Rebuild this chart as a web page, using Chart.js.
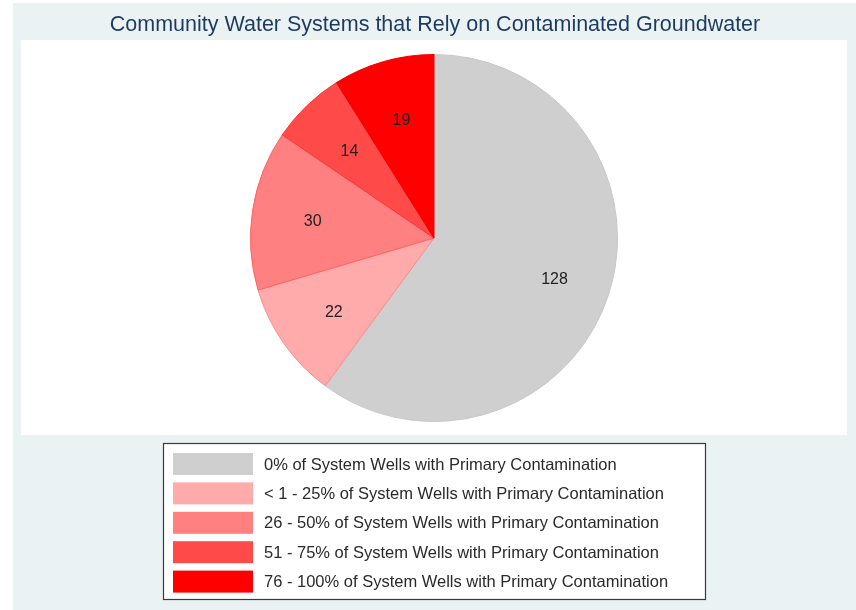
<!DOCTYPE html>
<html>
<head>
<meta charset="utf-8">
<title>Community Water Systems that Rely on Contaminated Groundwater</title>
<script src="https://cdn.jsdelivr.net/npm/chart.js@4.4.1/dist/chart.umd.min.js"></script>
<style>
    html, body { margin: 0; padding: 0; background: #ffffff; }
    #wrap { width: 856px; height: 610px; position: relative; }
</style>
</head>
<body>
<div id="wrap"><canvas id="chartPie_water"></canvas></div>
<script>
    // categories and counts of community water systems
    var arrLabel = [
        '0% of System Wells with Primary Contamination',
        '< 1 - 25% of System Wells with Primary Contamination',
        '26 - 50% of System Wells with Primary Contamination',
        '51 - 75% of System Wells with Primary Contamination',
        '76 - 100% of System Wells with Primary Contamination'
    ];
    var arrCount = [128, 22, 30, 14, 19];

    var arrColor = ['#cfcfcf', '#ffabab', '#ff8080', '#ff4a4a', '#ff0000'];
    var arrBorder = ['#c8c8c8', '#ff8a8a', '#ff6262', '#ff3434', '#f20000'];

    var chartTitle = 'Community Water Systems that Rely on Contaminated Groundwater';

    // graph region + plot region + title, drawn under the pie
    const backgroundPlugin = {
        id: 'stataBackground',
        beforeDraw: function (chart) {
            let ctx = chart.ctx;
            ctx.save();
            ctx.fillStyle = '#ffffff';
            ctx.fillRect(0, 0, chart.width, chart.height);
            ctx.fillStyle = '#eaf2f3';
            ctx.fillRect(13, 3, chart.width - 13, chart.height - 3);
            ctx.fillStyle = '#ffffff';
            ctx.fillRect(21, 40, 826, 395);

            // title over the plot region (the built-in one is squeezed to the pie width)
            ctx.font = '21.5px "Liberation Sans", Arial, sans-serif';
            ctx.fillStyle = '#1e3a5f';
            ctx.textAlign = 'center';
            ctx.textBaseline = 'middle';
            ctx.fillText(chartTitle, 435, 25);
            ctx.restore();
        }
    };

    // slice counts, placed at about two thirds of the radius
    const sliceLabels = {
        id: 'sliceLabels',
        afterDatasetsDraw: function (chart) {
            let ctx = chart.ctx;
            let meta = chart.getDatasetMeta(0);
            ctx.save();
            ctx.font = '16px "Liberation Sans", Arial, sans-serif';
            ctx.fillStyle = '#222222';
            ctx.textAlign = 'center';
            ctx.textBaseline = 'middle';
            meta.data.forEach(function (arc, i) {
                let p = arc.getProps(['x', 'y', 'startAngle', 'endAngle', 'outerRadius'], true);
                let mid = (p.startAngle + p.endAngle) / 2;
                let r = p.outerRadius * 0.68;
                ctx.fillText(String(chart.data.datasets[0].data[i]), p.x + Math.cos(mid) * r + 2, p.y + Math.sin(mid) * r + 3);
            });
            ctx.restore();
        }
    };

    // boxed legend under the plot region, one key per row
    const boxLegend = {
        id: 'boxLegend',
        afterDraw: function (chart) {
            let ctx = chart.ctx;
            let ds = chart.data.datasets[0];
            ctx.save();
            ctx.fillStyle = '#ffffff';
            ctx.fillRect(163.5, 443.5, 542, 156);
            ctx.strokeStyle = '#3a3a3a';
            ctx.lineWidth = 1.2;
            ctx.strokeRect(163.5, 443.5, 542, 156);

            ctx.font = '16.5px "Liberation Sans", Arial, sans-serif';
            ctx.textBaseline = 'middle';
            ctx.textAlign = 'left';
            for (let i = 0; i < chart.data.labels.length; i++) {
                let y = 464 + i * 29.4;
                ctx.fillStyle = ds.backgroundColor[i];
                ctx.fillRect(173, y - 11, 80, 22);
                ctx.fillStyle = '#2a2a2a';
                ctx.fillText(chart.data.labels[i], 264, y + 1);
            }
            ctx.restore();
        }
    };

    let ctxPie = document.getElementById('chartPie_water').getContext('2d');

    let waterChart = new Chart(ctxPie, {
        type: 'pie',
        data: {
            labels: arrLabel,
            datasets: [{
                data: arrCount,
                backgroundColor: arrColor,
                borderColor: arrBorder,
                borderWidth: 1
            }]
        },
        plugins: [backgroundPlugin, sliceLabels, boxLegend],
        options: {
            responsive: true,
            maintainAspectRatio: false,
            animation: false,
            layout: {
                padding: { left: 250, right: 238, top: 54, bottom: 188 }
            },
            plugins: {
                legend: { display: false },
                tooltip: { enabled: false },
                title: { display: false }
            }
        }
    });
</script>
</body>
</html>
